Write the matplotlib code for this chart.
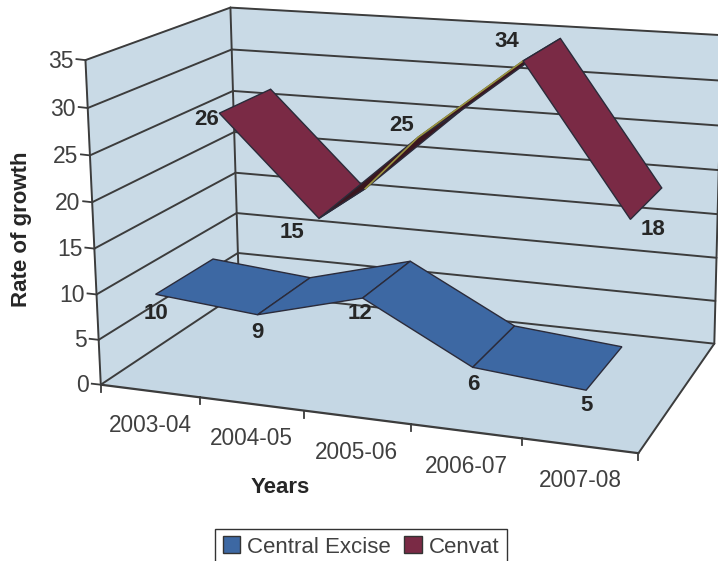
import numpy as np
import matplotlib
matplotlib.use("Agg")
import matplotlib.pyplot as plt
from matplotlib.patches import Polygon, Patch

plt.rcParams['font.family'] = ['Liberation Sans', 'DejaVu Sans']

years = ["2003-04", "2004-05", "2005-06", "2006-07", "2007-08"]
central_excise = [10, 9, 12, 6, 5]
cenvat = [26, 15, 25, 34, 18]
y_ticks = [0, 5, 10, 15, 20, 25, 30, 35]

WALL = "#c9dae6"
FLOOR = "#c5d7e4"
GRID = "#3c3c3c"
TEXT = "#404040"
LABEL = "#262626"
BLUE = "#3d68a3"
RED = "#7a2a45"
DARK_RED = "#3a161f"

# corners of the 3D box: (category, value, depth) -> pixel in the picture
corners = [
    ((0, 0, 0), (100.7, 384)),
    ((0, 35, 0), (85, 61)),
    ((0, 0, 1), (239, 293)),
    ((0, 35, 1), (231, 7)),
    ((5, 0, 1), (714, 344)),
    ((5, 35, 1), (722, 35)),
    ((5, 0, 0), (639, 453)),
]

rows = []
for (c, v, d), (px, py) in corners:
    p = [c, v, d, 1]
    rows.append(p + [0, 0, 0, 0] + [-px * a for a in p])
    rows.append([0, 0, 0, 0] + p + [-py * a for a in p])
cam = np.linalg.svd(np.array(rows, dtype=float))[2][-1].reshape(3, 4)


def proj(c, v, d):
    h = cam @ np.array([c, v, d, 1.0])
    return h[0] / h[2], h[1] / h[2]


fig = plt.figure(figsize=(7.18, 5.61), dpi=100)
ax = fig.add_axes([0, 0, 1, 1])
ax.set_xlim(0, 718)
ax.set_ylim(561, 0)
ax.axis("off")


def face(pts, color, edge=None, lw=1.0, z=1):
    ax.add_patch(Polygon([proj(*p) for p in pts], closed=True, facecolor=color,
                         edgecolor=edge if edge else color, linewidth=lw, zorder=z))


def line(a, b, lw=1.4, color=GRID, z=2):
    pa, pb = proj(*a), proj(*b)
    ax.plot([pa[0], pb[0]], [pa[1], pb[1]], color=color, lw=lw, zorder=z,
            solid_capstyle="round")


# walls and floor
face([(0, 0, 0), (0, 35, 0), (0, 35, 1), (0, 0, 1)], WALL)
face([(0, 0, 1), (0, 35, 1), (5, 35, 1), (5, 0, 1)], WALL)
face([(0, 0, 0), (0, 0, 1), (5, 0, 1), (5, 0, 0)], FLOOR)

for t in y_ticks:
    line((0, t, 0), (0, t, 1))
    line((0, t, 1), (5, t, 1))
    a = proj(0, t, 0)
    ax.plot([a[0] - 9, a[0]], [a[1] - 1, a[1]], color=GRID, lw=1.3, zorder=2)
    ax.text(a[0] - 12, a[1] + 1, str(t), ha="right", va="center", fontsize=16.5, color=TEXT)

line((0, 0, 0), (0, 35, 0))
line((0, 0, 1), (0, 35, 1))
line((5, 0, 1), (5, 35, 1))
line((0, 0, 0), (5, 0, 0), lw=1.6)
line((5, 0, 0), (5, 0, 1))

for i in range(6):
    a = proj(i, 0, 0)
    ax.plot([a[0], a[0]], [a[1], a[1] + 7], color=GRID, lw=1.3, zorder=2)

for i, name in enumerate(years):
    a = proj(i + 0.5, 0, 0)
    ax.text(a[0], a[1] + 35, name, ha="center", va="center", fontsize=16.3, color=TEXT)


def ribbon(values, d0, d1, colors, z):
    for i in range(len(values) - 1):
        face([(i + 0.5, values[i], d0), (i + 1.5, values[i + 1], d0),
              (i + 1.5, values[i + 1], d1), (i + 0.5, values[i], d1)],
             colors[i], edge="#2b2b3a", lw=1.0, z=z + i)


ribbon(cenvat, 0.54, 0.94, [RED, DARK_RED, DARK_RED, RED], 5)
ribbon(central_excise, 0.06, 0.46, [BLUE] * 4, 12)

# the nearly edge-on rising part of Cenvat has a light rim on its upper side
rim = [proj(1.5, cenvat[1], 0.94), proj(2.5, cenvat[2], 0.54), proj(3.5, cenvat[3], 0.54)]
ax.plot([p[0] for p in rim], [p[1] for p in rim], color="#9a9440", lw=1.2, zorder=7.5)

excise_off = [(0, 19), (0, 18), (-3, 15), (1, 17), (0, 15)]
cenvat_off = [(-13, 6), (-27, 14), (-16, -12), (-16, -19), (23, 10)]
for i, (v, off) in enumerate(zip(central_excise, excise_off)):
    a = proj(i + 0.5, v, 0.06)
    ax.text(a[0] + off[0], a[1] + off[1], str(v), ha="center", va="center",
            fontsize=16, fontweight="bold", color=LABEL, zorder=30)
for i, (v, off) in enumerate(zip(cenvat, cenvat_off)):
    a = proj(i + 0.5, v, 0.54)
    ax.text(a[0] + off[0], a[1] + off[1], str(v), ha="center", va="center",
            fontsize=16, fontweight="bold", color=LABEL, zorder=30)

ax.text(22, 229, "Rate of growth", rotation=90, ha="center", va="center",
        fontsize=16, fontweight="bold", color=LABEL)
ax.text(280, 487, "Years", ha="center", va="center", fontsize=16,
        fontweight="bold", color=LABEL)

handles = [Patch(facecolor=BLUE, edgecolor="#333333", label="Central Excise"),
           Patch(facecolor=RED, edgecolor="#333333", label="Cenvat")]
ax.legend(handles=handles, loc="center", bbox_to_anchor=(361, 547),
          bbox_transform=ax.transData, ncol=2, fontsize=16, frameon=True,
          fancybox=False, framealpha=1, edgecolor="#333333", handlelength=0.8,
          handleheight=0.8, handletextpad=0.3, columnspacing=0.6, borderpad=0.35,
          labelcolor=TEXT)

fig.savefig("out.png", dpi=100)
